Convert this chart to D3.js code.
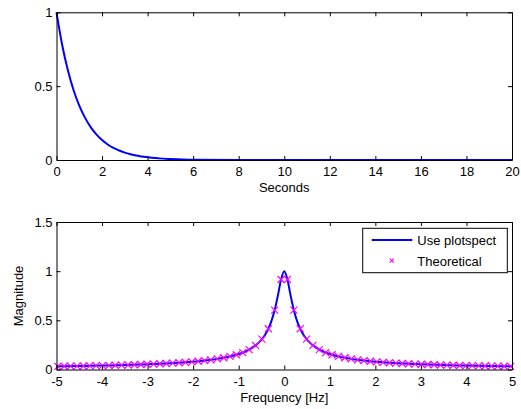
<!DOCTYPE html>
<html>
<head>
<meta charset="utf-8">
<script src="https://cdn.jsdelivr.net/npm/d3@7"></script>
<style>
  body { margin: 0; background: #fff; }
  svg { display: block; font-family: Arial, "Liberation Sans", sans-serif; }
  .axis text { font-size: 13px; fill: #000; }
  .axis path, .axis line { stroke: #000; }
</style>
</head>
<body>
<svg id="chart" width="521" height="409"></svg>
<script>
// top subplot: decay vs time
let timeSec = [0, 0.25, 0.5, 0.75, 1, 1.25, 1.5, 1.75, 2, 2.25, 2.5, 2.75, 3, 3.25, 3.5, 3.75, 4, 4.5, 5, 6, 8, 20];
let decay   = [1, 0.779, 0.607, 0.472, 0.368, 0.287, 0.223, 0.174, 0.135, 0.105, 0.082, 0.064, 0.050, 0.039, 0.030, 0.024, 0.018, 0.011, 0.007, 0.002, 0, 0];

// bottom subplot: "Use plotspect" line, right half (mirrored for left)
let lineFreq = [0, 0.07, 0.14, 0.21, 0.28, 0.35, 0.42, 0.49, 0.56, 0.63, 0.7, 0.77, 0.84, 0.91, 0.98, 1.05, 1.2, 1.4, 1.6, 1.8, 2, 2.5, 3, 3.5, 4, 4.5, 5];
let lineMag  = [1.0, 0.915, 0.751, 0.604, 0.494, 0.414, 0.354, 0.309, 0.273, 0.245, 0.222, 0.202, 0.186, 0.172, 0.160, 0.150, 0.131, 0.113, 0.099, 0.088, 0.079, 0.064, 0.053, 0.045, 0.040, 0.035, 0.032];

// "Theoretical" markers, right half (mirrored for left)
let theoFreq = [0.07, 0.21, 0.35, 0.49, 0.63, 0.77, 0.91, 1.05, 1.19, 1.33, 1.47, 1.61, 1.75, 1.89, 2.03, 2.17, 2.31, 2.45,
                2.59, 2.73, 2.87, 3.01, 3.15, 3.29, 3.43, 3.57, 3.71, 3.85, 3.99, 4.13, 4.27, 4.41, 4.55, 4.69, 4.83, 4.97];
let theoMag  = [0.915, 0.604, 0.414, 0.309, 0.245, 0.202, 0.172, 0.150, 0.133, 0.119, 0.108, 0.098, 0.091, 0.084, 0.078, 0.073, 0.069, 0.065,
                0.061, 0.058, 0.055, 0.053, 0.051, 0.048, 0.046, 0.045, 0.043, 0.041, 0.040, 0.039, 0.037, 0.036, 0.035, 0.034, 0.033, 0.032];

let topXTicks = [0, 2, 4, 6, 8, 10, 12, 14, 16, 18, 20];
let topYTicks = [0, 0.5, 1];
let botXTicks = [-5, -4, -3, -2, -1, 0, 1, 2, 3, 4, 5];
let botYTicks = [0, 0.5, 1, 1.5];
let legendLabels = ['Use plotspect', 'Theoretical'];

let left = 56.5, right = 512;
let tickLen = 4;

const svg = d3.select('#chart');

function mirror(xs, ys) {
  let pts = [];
  for (let i = xs.length - 1; i >= 0; i--) {
    if (xs[i] !== 0) pts.push({ x: -xs[i], y: ys[i] });
  }
  xs.forEach((x, i) => pts.push({ x: x, y: ys[i] }));
  return pts;
}

function drawFrame(g, x, y, xTicks, yTicks) {
  let [y0, y1] = y.range();
  let plain = d => String(d);  // ascii hyphen for negatives, like the original
  g.append('g').attr('class', 'axis')
    .attr('transform', `translate(0,${y0})`)
    .call(d3.axisBottom(x).tickValues(xTicks).tickSizeInner(-tickLen).tickSizeOuter(0).tickPadding(7).tickFormat(plain));
  g.append('g').attr('class', 'axis')
    .attr('transform', `translate(0,${y1})`)
    .call(d3.axisTop(x).tickValues(xTicks).tickSizeInner(-tickLen).tickSizeOuter(0).tickFormat(''));
  g.append('g').attr('class', 'axis')
    .attr('transform', `translate(${x.range()[0]},0)`)
    .call(d3.axisLeft(y).tickValues(yTicks).tickSizeInner(-tickLen).tickSizeOuter(0).tickPadding(4).tickFormat(plain));
  g.append('g').attr('class', 'axis')
    .attr('transform', `translate(${x.range()[1]},0)`)
    .call(d3.axisRight(y).tickValues(yTicks).tickSizeInner(-tickLen).tickSizeOuter(0).tickFormat(''));
}

// ---- top subplot
let xTop = d3.scaleLinear().domain([0, 20]).range([left, right]);
let yTop = d3.scaleLinear().domain([0, 1]).range([160, 12.3]);
let gTop = svg.append('g');

gTop.append('path')
  .datum(timeSec.map((t, i) => ({ x: t, y: decay[i] })))
  .attr('fill', 'none')
  .attr('stroke', '#0000ff')
  .attr('stroke-width', 2)
  .attr('d', d3.line().x(d => xTop(d.x)).y(d => yTop(d.y)).curve(d3.curveMonotoneX));

drawFrame(gTop, xTop, yTop, topXTicks, topYTicks);

gTop.append('text')
  .attr('x', (left + right) / 2).attr('y', 192)
  .attr('text-anchor', 'middle').attr('font-size', 13)
  .text('Seconds');

// ---- bottom subplot
let xBot = d3.scaleLinear().domain([-5, 5]).range([left, right]);
let yBot = d3.scaleLinear().domain([0, 1.5]).range([369.5, 222]);
let gBot = svg.append('g');

gBot.append('path')
  .datum(mirror(lineFreq, lineMag))
  .attr('fill', 'none')
  .attr('stroke', '#0000ff')
  .attr('stroke-width', 2)
  .attr('d', d3.line().x(d => xBot(d.x)).y(d => yBot(d.y)).curve(d3.curveMonotoneX));

let xMark = (g, cx, cy, s) => {
  g.append('path')
    .attr('d', `M${cx - s},${cy - s}L${cx + s},${cy + s}M${cx - s},${cy + s}L${cx + s},${cy - s}`)
    .attr('stroke', '#ff00ff')
    .attr('stroke-width', 1.2)
    .attr('fill', 'none');
};

mirror(theoFreq, theoMag).forEach(d => xMark(gBot, xBot(d.x), yBot(d.y), 3.5));

drawFrame(gBot, xBot, yBot, botXTicks, botYTicks);

gBot.append('text')
  .attr('x', (left + right) / 2).attr('y', 402)
  .attr('text-anchor', 'middle').attr('font-size', 13)
  .text('Frequency [Hz]');

gBot.append('text')
  .attr('transform', 'translate(23,296) rotate(-90)')
  .attr('text-anchor', 'middle').attr('font-size', 13)
  .text('Magnitude');

// legend
let legend = gBot.append('g');
legend.append('rect')
  .attr('x', 362.7).attr('y', 228.3)
  .attr('width', 144.6).attr('height', 44.4)
  .attr('fill', '#fff').attr('stroke', '#000').attr('stroke-width', 1);
legend.append('line')
  .attr('x1', 371.7).attr('x2', 412.3).attr('y1', 240).attr('y2', 240)
  .attr('stroke', '#0000ff').attr('stroke-width', 2);
xMark(legend, 391.7, 260.7, 2);
legend.selectAll('text.lbl')
  .data(legendLabels)
  .enter()
  .append('text')
  .attr('class', 'lbl')
  .attr('x', 417.3)
  .attr('y', (d, i) => 245 + i * 20.5)
  .attr('font-size', 13)
  .text(d => d);
</script>
</body>
</html>
